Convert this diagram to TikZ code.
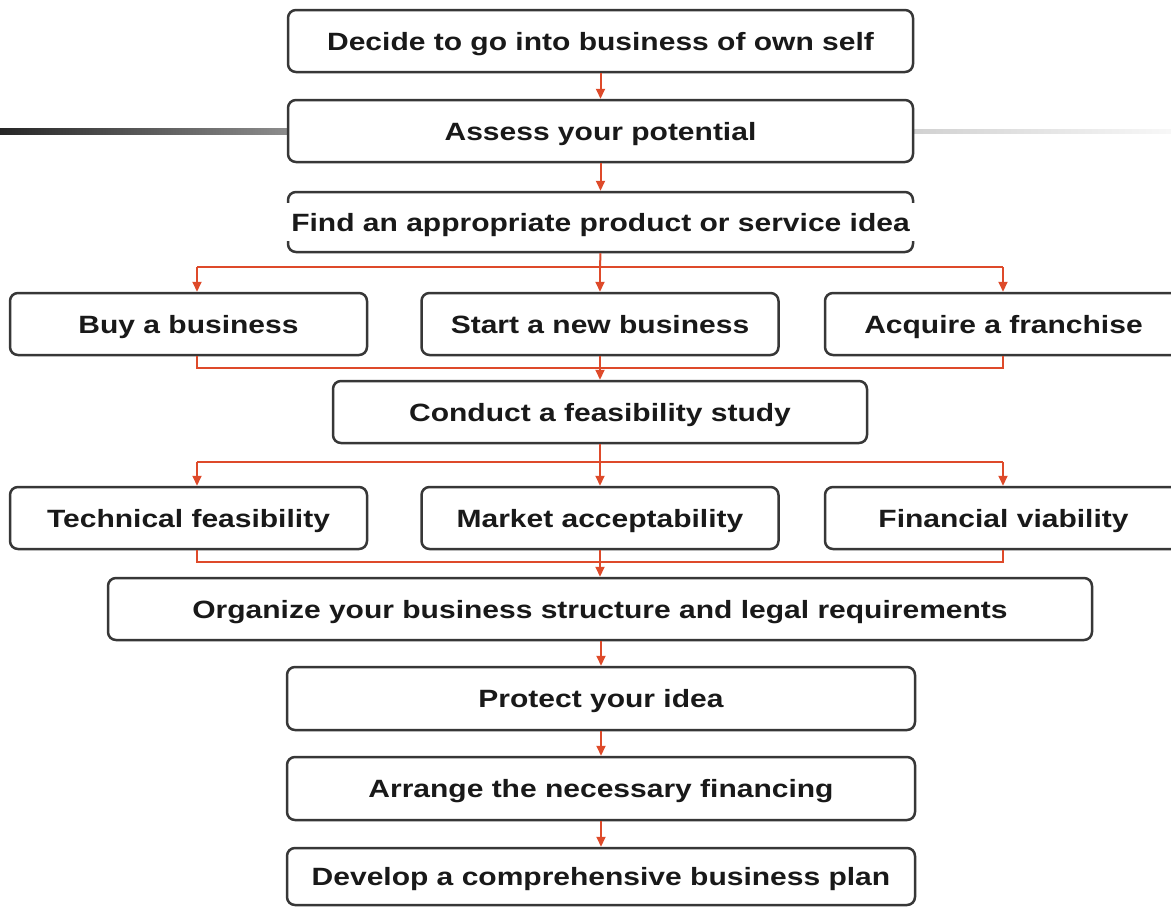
\documentclass[tikz,border=0pt]{standalone}
\usepackage{fontspec}
\newfontfamily\boxfont{Liberation Sans}[FakeStretch=1.2]
\usetikzlibrary{arrows.meta,calc}
\definecolor{arrowred}{RGB}{222,74,42}
\definecolor{boxline}{RGB}{55,55,55}
\definecolor{txt}{RGB}{25,25,25}
\begin{document}
\begin{tikzpicture}[x=1pt,y=-1pt,
  box/.style={draw=boxline,line width=2.5pt,rounded corners=8pt,fill=white,
    minimum height=62pt,inner sep=0pt,text=txt,text height=18pt,text depth=0pt,
    font=\boxfont\bfseries\fontsize{25}{30}\selectfont},
  flow/.style={draw=arrowred,line width=2pt},
  arr/.style={flow,-{Triangle[length=10pt,width=9pt]}}]
\useasboundingbox (0,0) rectangle (1171,906);
% decorative bars
\shade[left color=black!85,right color=black!45] (0,128) rectangle (288,134);
\shade[left color=black!18,right color=black!3] (913,129) rectangle (1171,133);
% boxes
\node[box,minimum width=625pt] (d1) at (600.5,41) {Decide to go into business of own self};
\node[box,minimum width=625pt] (d2) at (600.5,131) {Assess your potential};
\node[box,minimum width=625pt,minimum height=60pt] (d3) at (600.5,222) {};
\node[fill=white,inner xsep=6pt,inner ysep=0pt,minimum height=38pt,text=txt,
  text height=18pt,text depth=0pt,
  font=\boxfont\bfseries\fontsize{25}{30}\selectfont] (d3t) at (d3.center) {Find an appropriate product or service idea};
\node[box,minimum width=357pt] (buy) at (188.5,324) {Buy a business};
\node[box,minimum width=357pt] (start) at (600,324) {Start a new business};
\node[box,minimum width=357pt] (acq) at (1003.5,324) {Acquire a franchise};
\node[box,minimum width=534pt] (cond) at (600,412) {Conduct a feasibility study};
\node[box,minimum width=357pt] (tech) at (188.5,518) {Technical feasibility};
\node[box,minimum width=357pt] (mkt) at (600,518) {Market acceptability};
\node[box,minimum width=357pt] (fin) at (1003.5,518) {Financial viability};
\node[box,minimum width=984pt] (org) at (600,609) {Organize your business structure and legal requirements};
\node[box,minimum width=628pt,minimum height=63pt] (prot) at (601,698.5) {Protect your idea};
\node[box,minimum width=628pt,minimum height=63pt] (fina) at (601,788.5) {Arrange the necessary financing};
\node[box,minimum width=628pt,minimum height=57pt] (dev) at (601,876.5) {Develop a comprehensive business plan};
% junction coordinates
\coordinate (jl) at (197,0);
\coordinate (jr) at (1003,0);
\coordinate (s1) at (600,267);
\coordinate (m1) at (600,368);
\coordinate (s2) at (600,462);
\coordinate (m2) at (600,562);
% connectors
\draw[arr] (d1.south) -- (d2.north);
\draw[arr] (d2.south) -- (d3.north);
\draw[flow] (d3.south) -- (s1);
\draw[flow] (s1 -| jl) -- (s1 -| jr);
\draw[arr] (s1 -| jl) -- (buy.north -| jl);
\draw[arr] (s1) -- (start.north);
\draw[arr] (s1 -| jr) -- (acq.north -| jr);
\draw[flow] (buy.south -| jl) -- (m1 -| jl) -- (m1 -| jr) -- (acq.south -| jr);
\draw[arr] (start.south) -- (cond.north);
\draw[flow] (cond.south) -- (s2);
\draw[flow] (s2 -| jl) -- (s2 -| jr);
\draw[arr] (s2 -| jl) -- (tech.north -| jl);
\draw[arr] (s2) -- (mkt.north);
\draw[arr] (s2 -| jr) -- (fin.north -| jr);
\draw[flow] (tech.south -| jl) -- (m2 -| jl) -- (m2 -| jr) -- (fin.south -| jr);
\draw[arr] (mkt.south) -- (org.north);
\draw[arr] (org.south -| prot.north) -- (prot.north);
\draw[arr] (prot.south) -- (fina.north);
\draw[arr] (fina.south) -- (dev.north);
\end{tikzpicture}
\end{document}
